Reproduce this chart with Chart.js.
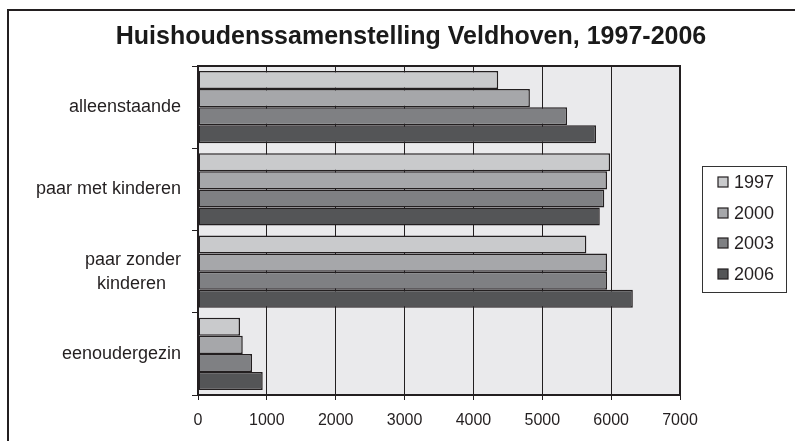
<!DOCTYPE html>
<html>
<head>
<meta charset="utf-8">
<script src="https://cdn.jsdelivr.net/npm/chart.js@4"></script>
<style>
    html, body { margin: 0; padding: 0; background: #fff; }
    canvas { display: block; }
</style>
</head>
<body>
<canvas id="chartHuishoudens" width="795" height="441"></canvas>
<script>
// Gegevens
const titel = 'Huishoudenssamenstelling Veldhoven, 1997-2006';
const categorieen = ['alleenstaande', 'paar met kinderen', ['paar zonder', 'kinderen   '], 'eenoudergezin'];
const jaren = ['1997', '2000', '2003', '2006'];
const waarden1997 = [4360, 5985, 5640, 610];
const waarden2000 = [4820, 5940, 5940, 650];
const waarden2003 = [5360, 5900, 5940, 785];
const waarden2006 = [5780, 5835, 6315, 940];
const xTicks = [0, 1000, 2000, 3000, 4000, 5000, 6000, 7000];

const kleuren = ['#c9cacc', '#a6a7aa', '#7f8083', '#545557'];
const lijnKleur = '#231f20';
const fontFamily = 'Arial, "Liberation Sans", Helvetica, sans-serif';

// Achtergrond, titel, kader en legenda
const kaderPlugin = {
    id: 'kader',
    beforeDraw(chart) {
        const { ctx, chartArea } = chart;
        ctx.save();
        ctx.fillStyle = '#fff';
        ctx.fillRect(0, 0, chart.width, chart.height);
        ctx.fillStyle = '#eaeaec';
        ctx.fillRect(chartArea.left, chartArea.top, chartArea.right - chartArea.left, chartArea.bottom - chartArea.top);
        ctx.restore();
    },
    afterDraw(chart) {
        const { ctx, chartArea } = chart;
        ctx.save();
        ctx.strokeStyle = lijnKleur;
        ctx.lineWidth = 2;
        ctx.strokeRect(chartArea.left, chartArea.top, chartArea.right - chartArea.left, chartArea.bottom - chartArea.top);

        // buitenkader
        ctx.strokeRect(8, 10, 800, 450);

        // titel
        ctx.fillStyle = '#1a1a1a';
        ctx.font = 'bold 25px ' + fontFamily;
        ctx.textAlign = 'center';
        ctx.textBaseline = 'middle';
        ctx.fillText(titel, 411, 37);

        // legenda
        ctx.lineWidth = 1;
        ctx.strokeStyle = '#333';
        ctx.strokeRect(702.5, 166.5, 84, 126);
        ctx.font = '18px ' + fontFamily;
        ctx.textAlign = 'left';
        const rijen = [182, 213, 243, 274];
        chart.data.datasets.forEach((ds, i) => {
            const y = rijen[i];
            ctx.fillStyle = ds.backgroundColor;
            ctx.fillRect(718, y - 5, 10, 10);
            ctx.strokeStyle = lijnKleur;
            ctx.lineWidth = 1.2;
            ctx.strokeRect(718, y - 5, 10, 10);
            ctx.fillStyle = lijnKleur;
            ctx.fillText(ds.label, 734, y + 1);
        });
        ctx.restore();
    }
};

const reeksen = [waarden1997, waarden2000, waarden2003, waarden2006];

new Chart(document.getElementById('chartHuishoudens'), {
    type: 'bar',
    data: {
        labels: categorieen,
        datasets: reeksen.map((w, i) => ({
            label: jaren[i],
            data: w,
            backgroundColor: kleuren[i],
            borderColor: lijnKleur,
            borderWidth: 1.5,
            borderSkipped: false,
            categoryPercentage: 0.88,
            barPercentage: 1.0
        }))
    },
    options: {
        indexAxis: 'y',
        responsive: false,
        animation: false,
        devicePixelRatio: 1,
        layout: {
            padding: { left: 0, right: 115, top: 66, bottom: 0 }
        },
        scales: {
            x: {
                min: 0,
                max: 7000,
                afterBuildTicks: (scale) => {
                    scale.ticks = xTicks.map(v => ({ value: v }));
                },
                afterFit: (scale) => { scale.height = 46; },
                ticks: {
                    color: lijnKleur,
                    padding: 11,
                    font: { family: fontFamily, size: 16 },
                    callback: (v) => String(v)
                },
                grid: {
                    color: lijnKleur,
                    lineWidth: 1,
                    tickLength: 5,
                    drawOnChartArea: true
                },
                border: { color: lijnKleur, width: 2 }
            },
            y: {
                afterFit: (scale) => { scale.width = 198; },
                ticks: {
                    color: lijnKleur,
                    padding: 11,
                    font: { family: fontFamily, size: 18, lineHeight: 1.33 }
                },
                grid: {
                    color: lijnKleur,
                    drawOnChartArea: false,
                    tickLength: 6,
                    offset: true
                },
                border: { color: lijnKleur, width: 2 }
            }
        },
        plugins: {
            legend: { display: false },
            tooltip: { enabled: false },
            title: { display: false }
        }
    },
    plugins: [kaderPlugin]
});
</script>
</body>
</html>
